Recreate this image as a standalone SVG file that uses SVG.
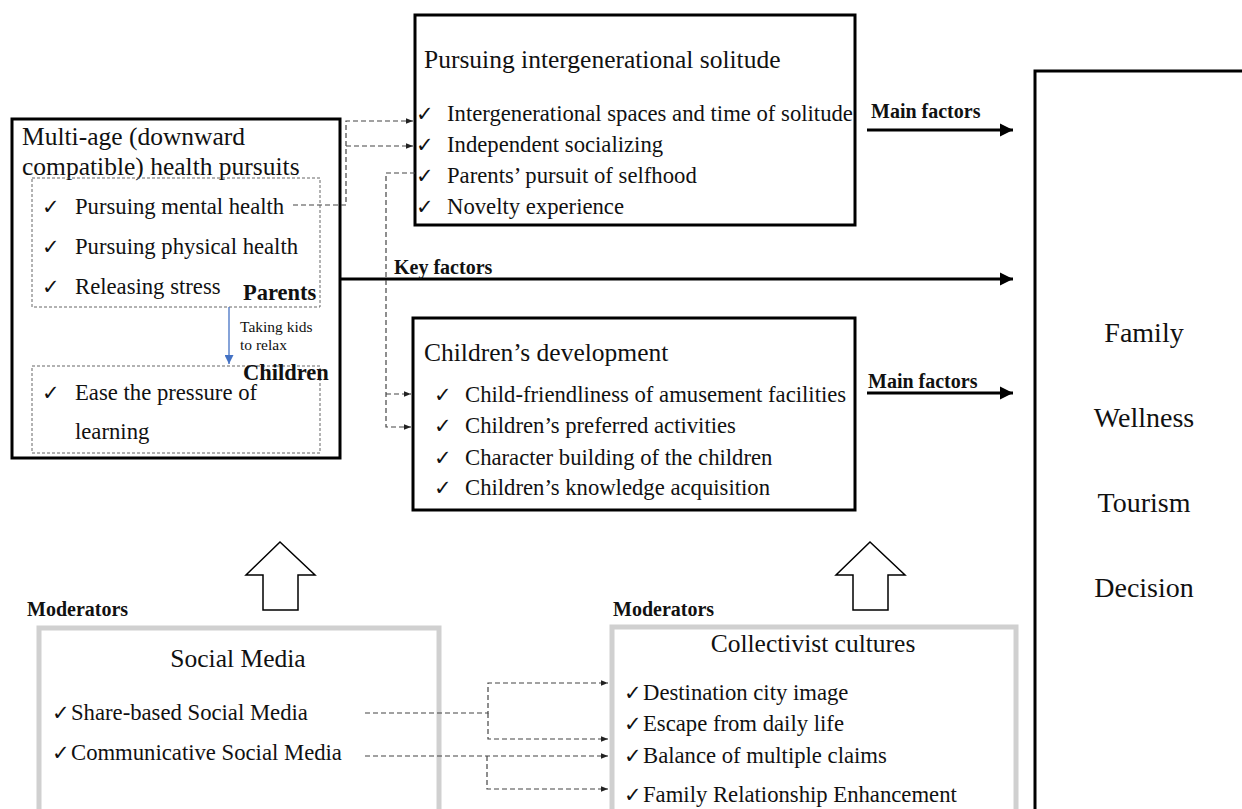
<svg xmlns="http://www.w3.org/2000/svg" width="1242" height="809" viewBox="0 0 1242 809">
<defs>
<style>
.t{font-family:"Liberation Serif","Times New Roman",serif;fill:#111}
.h{font-size:25.5px}
.i{font-size:22.7px}
.b{font-weight:bold}
.lb{font-size:20px;font-weight:bold}
.box{fill:#fff;stroke:#000;stroke-width:3}
.gbox{fill:#fff;stroke:#d0d0d0;stroke-width:5}
.dot{fill:none;stroke:#666;stroke-width:1;stroke-dasharray:3,2}
.dash{fill:none;stroke:#444;stroke-width:1.2;stroke-dasharray:5,3}
.thick{fill:none;stroke:#000;stroke-width:3}
.hollow{fill:#fff;stroke:#000;stroke-width:1.5}
.ck{font-family:"DejaVu Sans",sans-serif;fill:#111;font-size:21px}
</style>
<marker id="ah" viewBox="0 0 10 10" refX="10" refY="5" markerWidth="4.5" markerHeight="4.5" orient="auto" markerUnits="strokeWidth"><path d="M0,0 L10,5 L0,10 z" fill="#000"/></marker>
<marker id="sa" viewBox="0 0 10 10" refX="10" refY="5" markerWidth="7" markerHeight="7" orient="auto" markerUnits="userSpaceOnUse"><path d="M0,1 L10,5 L0,9 z" fill="#222"/></marker>
<marker id="ba" viewBox="0 0 10 10" refX="10" refY="5" markerWidth="9" markerHeight="9" orient="auto" markerUnits="userSpaceOnUse"><path d="M0,0 L10,5 L0,10 z" fill="#4472c4"/></marker>
</defs>
<rect width="1242" height="809" fill="#fff"/>

<g id="node-decision">
<rect class="box" x="1035" y="71" width="300" height="800"/>
<text class="t" font-size="28" x="1144" y="342" text-anchor="middle">Family</text>
<text class="t" font-size="28" x="1144" y="427" text-anchor="middle">Wellness</text>
<text class="t" font-size="28" x="1144" y="512" text-anchor="middle">Tourism</text>
<text class="t" font-size="28" x="1144" y="597" text-anchor="middle">Decision</text>
</g>

<g id="node-health">
<rect class="box" x="12" y="119" width="328" height="339"/>
<text class="t h" x="22" y="145">Multi-age (downward</text>
<text class="t h" x="22" y="175">compatible) health pursuits</text>
<rect class="dot" x="32" y="178" width="288" height="129"/>
<text class="ck" x="42" y="214">✓</text>
<text class="t i" x="75" y="214">Pursuing mental health</text>
<text class="ck" x="42" y="254">✓</text>
<text class="t i" x="75" y="254">Pursuing physical health</text>
<text class="ck" x="42" y="294">✓</text>
<text class="t i" x="75" y="294">Releasing stress</text>
<text class="t b" font-size="22.5" x="243" y="300">Parents</text>
<line x1="229" y1="307" x2="229" y2="364" stroke="#4472c4" stroke-width="1.3" marker-end="url(#ba)"/>
<text class="t" font-size="15.5" x="240" y="332">Taking kids</text>
<text class="t" font-size="15.5" x="240" y="350">to relax</text>
<rect class="dot" x="32" y="366" width="288" height="87"/>
<text class="t b" font-size="22.5" x="243" y="380">Children</text>
<text class="ck" x="42" y="400">✓</text>
<text class="t i" x="75" y="400">Ease the pressure of</text>
<text class="t i" x="75" y="439">learning</text>
</g>

<g id="node-solitude">
<rect class="box" x="415" y="15" width="440" height="210"/>
<text class="t h" x="424" y="68">Pursuing intergenerational solitude</text>
<text class="ck" x="416" y="121">✓</text>
<text class="t i" x="447" y="121">Intergenerational spaces and time of solitude</text>
<text class="ck" x="416" y="152">✓</text>
<text class="t i" x="447" y="152">Independent socializing</text>
<text class="ck" x="416" y="183">✓</text>
<text class="t i" x="447" y="183">Parents’ pursuit of selfhood</text>
<text class="ck" x="416" y="214">✓</text>
<text class="t i" x="447" y="214">Novelty experience</text>
</g>

<g id="node-children">
<rect class="box" x="413" y="318" width="442" height="192"/>
<text class="t h" x="424" y="361">Children’s development</text>
<text class="ck" x="434" y="402">✓</text>
<text class="t i" x="465" y="402">Child-friendliness of amusement facilities</text>
<text class="ck" x="434" y="433">✓</text>
<text class="t i" x="465" y="433">Children’s preferred activities</text>
<text class="ck" x="434" y="465">✓</text>
<text class="t i" x="465" y="465">Character building of the children</text>
<text class="ck" x="434" y="495">✓</text>
<text class="t i" x="465" y="495">Children’s knowledge acquisition</text>
</g>

<g id="node-social">
<text class="t lb" x="27" y="616">Moderators</text>
<rect class="gbox" x="39" y="628" width="400" height="190"/>
<text class="t h" x="238" y="667" text-anchor="middle">Social Media</text>
<text class="ck" x="52" y="720">✓</text>
<text class="t i" x="71" y="720">Share-based Social Media</text>
<text class="ck" x="52" y="760">✓</text>
<text class="t i" x="71" y="760">Communicative Social Media</text>
</g>

<g id="node-culture">
<text class="t lb" x="613" y="616">Moderators</text>
<rect class="gbox" x="612" y="627" width="404" height="190"/>
<text class="t h" x="813" y="652" text-anchor="middle">Collectivist cultures</text>
<text class="ck" x="624" y="700">✓</text>
<text class="t i" x="643" y="700">Destination city image</text>
<text class="ck" x="624" y="731">✓</text>
<text class="t i" x="643" y="731">Escape from daily life</text>
<text class="ck" x="624" y="763">✓</text>
<text class="t i" x="643" y="763">Balance of multiple claims</text>
<text class="ck" x="624" y="802">✓</text>
<text class="t i" x="643" y="802">Family Relationship Enhancement</text>
</g>

<g id="connectors">
<line class="thick" x1="867" y1="130" x2="1013" y2="130" marker-end="url(#ah)"/>
<text class="t lb" x="871" y="118">Main factors</text>
<line class="thick" x1="340" y1="279" x2="1013" y2="279" marker-end="url(#ah)"/>
<text class="t lb" x="394" y="274">Key factors</text>
<line class="thick" x1="867" y1="393" x2="1013" y2="393" marker-end="url(#ah)"/>
<text class="t lb" x="868" y="388">Main factors</text>

<path class="dash" d="M293,205 H346 V121 H413" marker-end="url(#sa)"/>
<path class="dash" d="M346,146 H413" marker-end="url(#sa)"/>
<path class="dash" d="M415,173 H386 V427 H411" marker-end="url(#sa)"/>
<path class="dash" d="M386,394 H411" marker-end="url(#sa)"/>

<path class="dash" d="M365,713 H488 V683 H608" marker-end="url(#sa)"/>
<path class="dash" d="M488,713 V739 H608" marker-end="url(#sa)"/>
<path class="dash" d="M365,756 H608" marker-end="url(#sa)"/>
<path class="dash" d="M487,756 V789 H608" marker-end="url(#sa)"/>

<polygon class="hollow" points="280,542 315,575 298,575 298,610 263,610 263,575 246,575"/>
<polygon class="hollow" points="870,542 905,575 888,575 888,610 853,610 853,575 836,575"/>
</g>
</svg>
